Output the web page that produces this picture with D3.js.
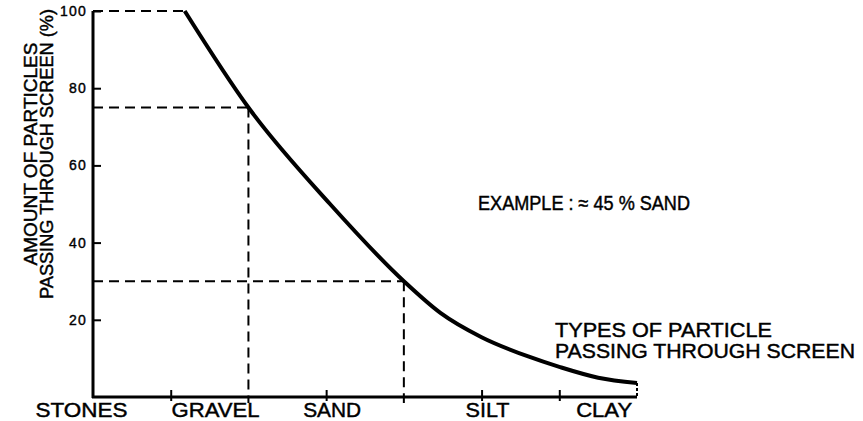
<!DOCTYPE html>
<html>
<head>
<meta charset="utf-8">
<script src="https://cdn.jsdelivr.net/npm/d3@7"></script>
<style>
  html, body { margin: 0; padding: 0; background: #fff; }
  svg { display: block; }
  text { font-family: "Liberation Sans", Arial, Helvetica, sans-serif; fill: #000; stroke: #000; stroke-width: 0.45px; }
</style>
</head>
<body>
<svg id="chart" width="863" height="421"></svg>
<script>
// Grading curve: share of material passing the screen, by particle-size class
// (size classes run from coarse on the left to fine on the right).
const sizeClass   = [1.18, 2.0, 3.05, 4.0, 4.47, 5.0,  5.6,  6.0, 6.5, 7.0];
const passingPct  = [100,  75,  50,   30,  21.8, 15.5, 10.5, 7.8, 5.0, 3.6];

// Soil fractions and their class boundaries along the size axis
const fractions      = ["STONES", "GRAVEL", "SAND", "SILT", "CLAY"];
const fractionBounds = [-1.45, 1, 2, 4, 6, 7];
const minorTicks     = [1, 3, 5, 6];

// Worked example: sand = passing at gravel/sand limit minus passing at sand/silt limit
const exampleLimits  = [2, 4];
const examplePassing = [75, 30];

const yTicks = [20, 40, 60, 80, 100];
const yTitle = ["AMOUNT OF PARTICLES", "PASSING THROUGH SCREEN (%)"];
const exampleText = "EXAMPLE : \u2248 45 % SAND";
const curveNote = ["TYPES OF PARTICLE", "PASSING THROUGH SCREEN"];

const svg = d3.select("#chart");
svg.append("rect").attr("width", 863).attr("height", 421).attr("fill", "#fff");

const x = d3.scaleLinear().domain([0, 7]).range([93, 637]);
const y = d3.scaleLinear().domain([0, 100]).range([397, 11]);

const dash = "10,6";

// Guide lines for the 100 % plateau and the example
const guides = svg.append("g").attr("stroke", "#000").attr("stroke-width", 2)
  .attr("stroke-dasharray", dash).attr("fill", "none");
guides.append("line")
  .attr("x1", x(0)).attr("x2", x(sizeClass[0]))
  .attr("y1", y(100)).attr("y2", y(100));
exampleLimits.forEach((lim, i) => {
  guides.append("line")
    .attr("x1", x(0)).attr("x2", x(lim))
    .attr("y1", y(examplePassing[i])).attr("y2", y(examplePassing[i]));
  guides.append("line")
    .attr("x1", x(lim)).attr("x2", x(lim))
    .attr("y1", y(examplePassing[i])).attr("y2", y(0) + 6);
});
// short closing mark under the end of the curve
guides.append("line")
  .attr("stroke-dasharray", "3,2")
  .attr("x1", x(7)).attr("x2", x(7))
  .attr("y1", y(passingPct[passingPct.length - 1])).attr("y2", y(0));

// Y axis
const yAxis = svg.append("g").attr("transform", `translate(${x(0)},0)`)
  .call(d3.axisLeft(y).tickValues(yTicks).tickSize(-8).tickPadding(6));
yAxis.select(".domain").attr("stroke-width", 3).attr("d", `M0,${y(0) + 1}V${y(100)}`);
yAxis.selectAll(".tick line").attr("stroke-width", 2);
yAxis.selectAll(".tick text")
  .attr("font-size", 14)
  .attr("letter-spacing", 1.2)
  .style("font-family", '"Liberation Sans", Arial, sans-serif')
  .style("stroke", "#000").style("stroke-width", "0.4px");

// X axis
const xAxis = svg.append("g").attr("transform", `translate(0,${y(0)})`)
  .call(d3.axisBottom(x).tickValues(minorTicks).tickSize(-7).tickFormat(""));
xAxis.select(".domain").attr("stroke-width", 3).attr("d", `M${x(0) - 1},0H${x(7)}`);
xAxis.selectAll(".tick line").attr("stroke-width", 2).attr("y2", -7).attr("y1", 4);

// Fraction names under the axis
const fracLabelLen = [92, 88, 58, 44, 56];
svg.append("g").selectAll("text")
  .data(fractions)
  .join("text")
  .attr("x", (d, i) => x((fractionBounds[i] + fractionBounds[i + 1]) / 2) + 6)
  .attr("y", 417)
  .attr("text-anchor", "middle")
  .attr("font-size", 21)
  .attr("textLength", (d, i) => fracLabelLen[i])
  .attr("lengthAdjust", "spacingAndGlyphs")
  .text(d => d);

// Grading curve
const line = d3.line()
  .x((d, i) => x(sizeClass[i]))
  .y(d => y(d))
  .curve(d3.curveMonotoneX);
svg.append("path")
  .datum(passingPct)
  .attr("d", line)
  .attr("fill", "none")
  .attr("stroke", "#000")
  .attr("stroke-width", 4)
  .attr("stroke-linejoin", "round");

// Y axis title (two rotated lines)
const yTitleLen = [223, 290];
const yTitleBase = [37, 53];
yTitle.forEach((t, i) => {
  svg.append("text")
    .attr("transform", `translate(${yTitleBase[i]},154) rotate(-90)`)
    .attr("text-anchor", "middle")
    .attr("font-size", 18)
    .attr("textLength", yTitleLen[i])
    .attr("lengthAdjust", "spacingAndGlyphs")
    .text(t);
});

// Example note
svg.append("text")
  .attr("x", 478).attr("y", 210)
  .attr("font-size", 20)
  .attr("textLength", 212)
  .attr("lengthAdjust", "spacingAndGlyphs")
  .text(exampleText);

// Note beside the tail of the curve
const noteLen = [217, 300];
curveNote.forEach((t, i) => {
  svg.append("text")
    .attr("x", 555).attr("y", 337 + i * 21)
    .attr("font-size", 21)
    .attr("textLength", noteLen[i])
    .attr("lengthAdjust", "spacingAndGlyphs")
    .text(t);
});
</script>
</body>
</html>
